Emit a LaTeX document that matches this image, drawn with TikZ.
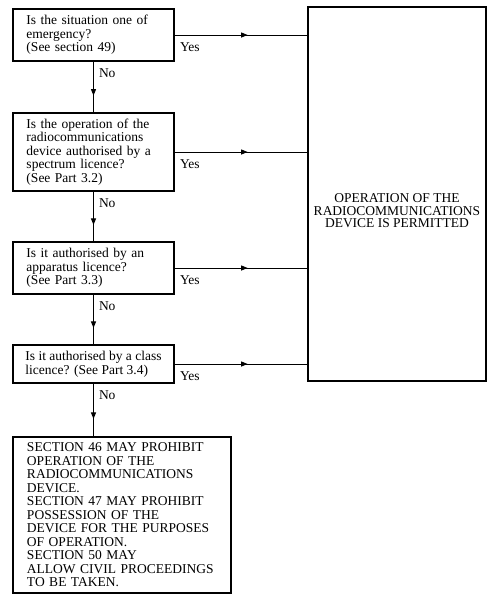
\documentclass[tikz,border=0pt]{standalone}
\usepackage{fontspec}
\setmainfont{Liberation Serif}
\usetikzlibrary{arrows.meta, decorations.markings, positioning}

\begin{document}
\begin{tikzpicture}[
    x=1pt, y=-1pt,
    question/.style={rectangle, draw, line width=1.2pt, minimum width=161pt, inner xsep=0pt, align=left, font=\fontsize{13.5}{13.5}\selectfont},
    outcome/.style={rectangle, draw, line width=1.2pt, minimum width=218pt, text width=190pt, inner xsep=0pt, align=left, font=\fontsize{13.5}{13.5}\selectfont},
    permitbox/.style={rectangle, draw, line width=1.2pt, minimum width=178pt, minimum height=374pt},
    permittext/.style={align=center, font=\fontsize{13.5}{12.5}\selectfont},
    answer/.style={anchor=north west, inner sep=1pt, xshift=4pt, yshift=-6pt, font=\fontsize{13.5}{13.5}\selectfont},
    yesflow/.style={line width=1pt, postaction={decorate}, decoration={markings, mark=at position 0.55 with {\arrow{Triangle[length=6.5pt,width=5pt]}}}},
    noflow/.style={line width=1pt, postaction={decorate}, decoration={markings, mark=at position 0.67 with {\arrow{Triangle[length=6.5pt,width=5pt]}}}}
]
\useasboundingbox (0,0) rectangle (500,600);

% Questions
\node[question, minimum height=52pt, text width=134pt] (q1) at (93.5,35) {Is the situation one of\\emergency?\\(See section 49)};
\node[question, minimum height=78pt, text width=134pt] (q2) at (93.5,152) {Is the operation of the\\radiocommunications\\device authorised by a\\spectrum licence?\\(See Part 3.2)};
\node[question, minimum height=52pt, text width=134pt] (q3) at (93.5,268) {Is it authorised by an\\apparatus licence?\\(See Part 3.3)};
\node[question, minimum height=38pt] (q4) at (93.5,364) {Is it authorised by a class\\licence? (See Part 3.4)};

% Outcomes
\node[permitbox] (permit) at (397,194) {};
\node[permittext] (permittxt) at (397,211) {OPERATION OF THE\\RADIOCOMMUNICATIONS\\DEVICE IS PERMITTED};
\node[outcome, minimum height=156pt] (prohibit) at (122,515) {SECTION 46 MAY PROHIBIT\\OPERATION OF THE\\RADIOCOMMUNICATIONS\\DEVICE.\\SECTION 47 MAY PROHIBIT\\POSSESSION OF THE\\DEVICE FOR THE PURPOSES\\OF OPERATION.\\SECTION 50 MAY\\ALLOW CIVIL PROCEEDINGS\\TO BE TAKEN.};

% Yes branches
\draw[yesflow] (q1.east) -- node[answer, pos=0] {Yes} (q1.east -| permit.west);
\draw[yesflow] (q2.east) -- node[answer, pos=0] {Yes} (q2.east -| permit.west);
\draw[yesflow] (q3.east) -- node[answer, pos=0] {Yes} (q3.east -| permit.west);
\draw[yesflow] (q4.east) -- node[answer, pos=0] {Yes} (q4.east -| permit.west);

% No branches
\draw[noflow] (q1.south) -- node[answer, pos=0] {No} (q2.north);
\draw[noflow] (q2.south) -- node[answer, pos=0] {No} (q3.north);
\draw[noflow] (q3.south) -- node[answer, pos=0] {No} (q4.north);
\draw[noflow] (q4.south) -- node[answer, pos=0] {No} (q4.south |- prohibit.north);

\end{tikzpicture}
\end{document}
